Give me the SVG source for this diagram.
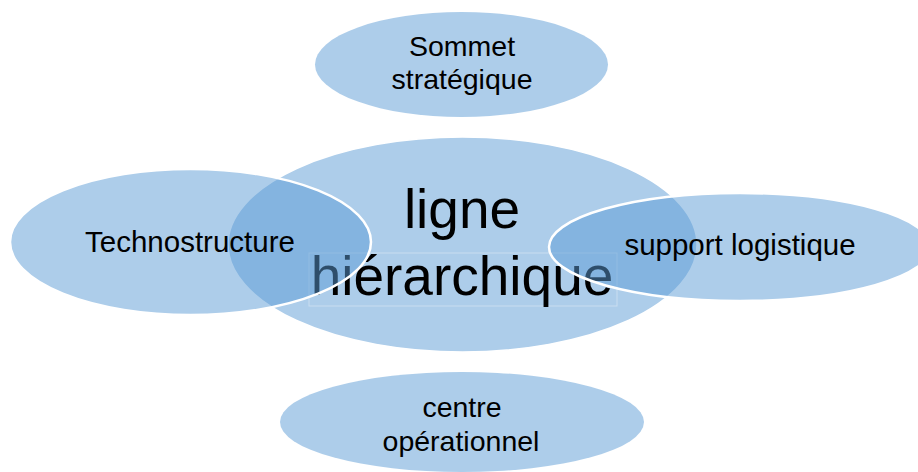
<svg xmlns="http://www.w3.org/2000/svg" width="918" height="472" viewBox="0 0 918 472">
<style>
.bub{fill:#5b9bd5;fill-opacity:0.5;}
.side{stroke:#ffffff;stroke-width:2.5;}
.core{stroke:#ffffff;stroke-width:1.5;}
text{font-family:"Liberation Sans",Arial,sans-serif;fill:#000000;text-anchor:middle;}
.lbl{font-size:28.5px;}
.lbl2{font-size:29.5px;}
.big{font-size:55px;}
</style>
<rect width="918" height="472" fill="#ffffff"/>
<g id="sommet">
<ellipse class="bub" cx="461.5" cy="64.5" rx="146.5" ry="52.5"/>
<text class="lbl" x="462" y="56">Sommet</text>
<text class="lbl" x="462" y="89">stratégique</text>
</g>
<g id="centre">
<ellipse class="bub" cx="462" cy="422" rx="182" ry="50"/>
<text class="lbl" x="462" y="417">centre</text>
<text class="lbl" x="461" y="451">opérationnel</text>
</g>
<g id="ligne">
<ellipse class="bub core" cx="462.5" cy="244.5" rx="234.5" ry="107.5"/>
<rect x="309" y="253" width="308" height="53" fill="none" stroke="#ffffff" stroke-opacity="0.35" stroke-width="1"/>
<text class="big" x="462" y="228">ligne</text>
<text class="big" x="462" y="295">hiérarchique</text>
</g>
<g id="techno">
<ellipse class="bub side" cx="190.5" cy="242" rx="180.5" ry="73"/>
<text class="lbl2" x="190" y="252">Technostructure</text>
</g>
<g id="support">
<ellipse class="bub side" cx="740" cy="247" rx="191" ry="54"/>
<text class="lbl2" x="740" y="255">support logistique</text>
</g>
<g id="connectors"></g>
</svg>
